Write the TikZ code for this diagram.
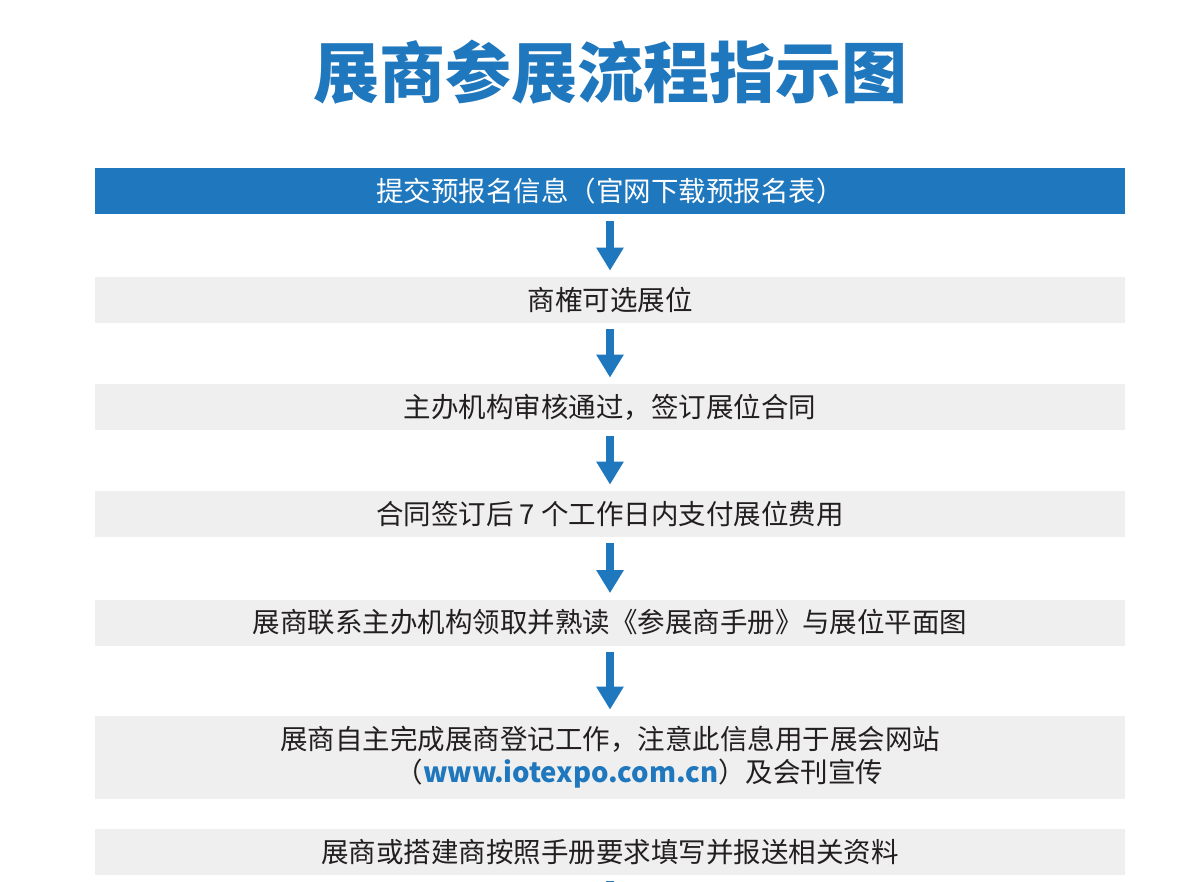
\documentclass[tikz,border=0pt]{standalone}
\usepackage{fontspec}
\setmainfont{Noto Sans CJK SC}
\usetikzlibrary{arrows.meta}
\definecolor{expoblue}{HTML}{1F77BE}
\definecolor{expogray}{HTML}{EEEFEE}
\definecolor{expotext}{HTML}{231F20}

\begin{document}
\begin{tikzpicture}[x=0.5pt,y=-0.5pt]
\tikzstyle{bar} = [minimum width=515pt,minimum height=23pt,inner sep=0pt,font=\fontsize{13.75}{16.5}\selectfont]
\tikzstyle{bluebar} = [bar,fill=expoblue,text=white]
\tikzstyle{graybar} = [bar,fill=expogray,text=expotext]
\tikzstyle{flow} = [expoblue,line width=4pt,-{Triangle[width=13pt,length=11.5pt]},shorten <=3pt,shorten >=3pt]
\def\cx{610}

\clip (0,0) rectangle (1200,882);
\fill[white] (0,0) rectangle (1200,882);

\node (title) at (\cx,72) [text=expoblue,font=\fontsize{33}{33}\selectfont\bfseries] {展商参展流程指示图};

\node (s1) at (\cx,191.5) [bluebar] {提交预报名信息（官网下载预报名表）};
\node (s2) at (\cx,300) [graybar] {商榷可选展位};
\node (s3) at (\cx,407) [graybar] {主办机构审核通过，签订展位合同};
\node (s4) at (\cx,514) [graybar] {合同签订后 7 个工作日内支付展位费用};
\node (s5) at (\cx,622.5) [graybar] {展商联系主办机构领取并熟读《参展商手册》与展位平面图};
\node (s6) at (\cx,757.5) [graybar,minimum height=41.5pt,align=left] {展商自主完成展商登记工作，注意此信息用于展会网站\\\hspace*{4.2em}（{\color{expoblue}\bfseries www.iotexpo.com.cn}）及会刊宣传};
\node (s7) at (\cx,852) [graybar] {展商或搭建商按照手册要求填写并报送相关资料};
\coordinate (tail) at (\cx,960);

\draw[flow] (s1) -- (s2);
\draw[flow] (s2) -- (s3);
\draw[flow] (s3) -- (s4);
\draw[flow] (s4) -- (s5);
\draw[flow] (s5) -- (s6);
\draw[flow] (s7) -- (tail);
\end{tikzpicture}
\end{document}
